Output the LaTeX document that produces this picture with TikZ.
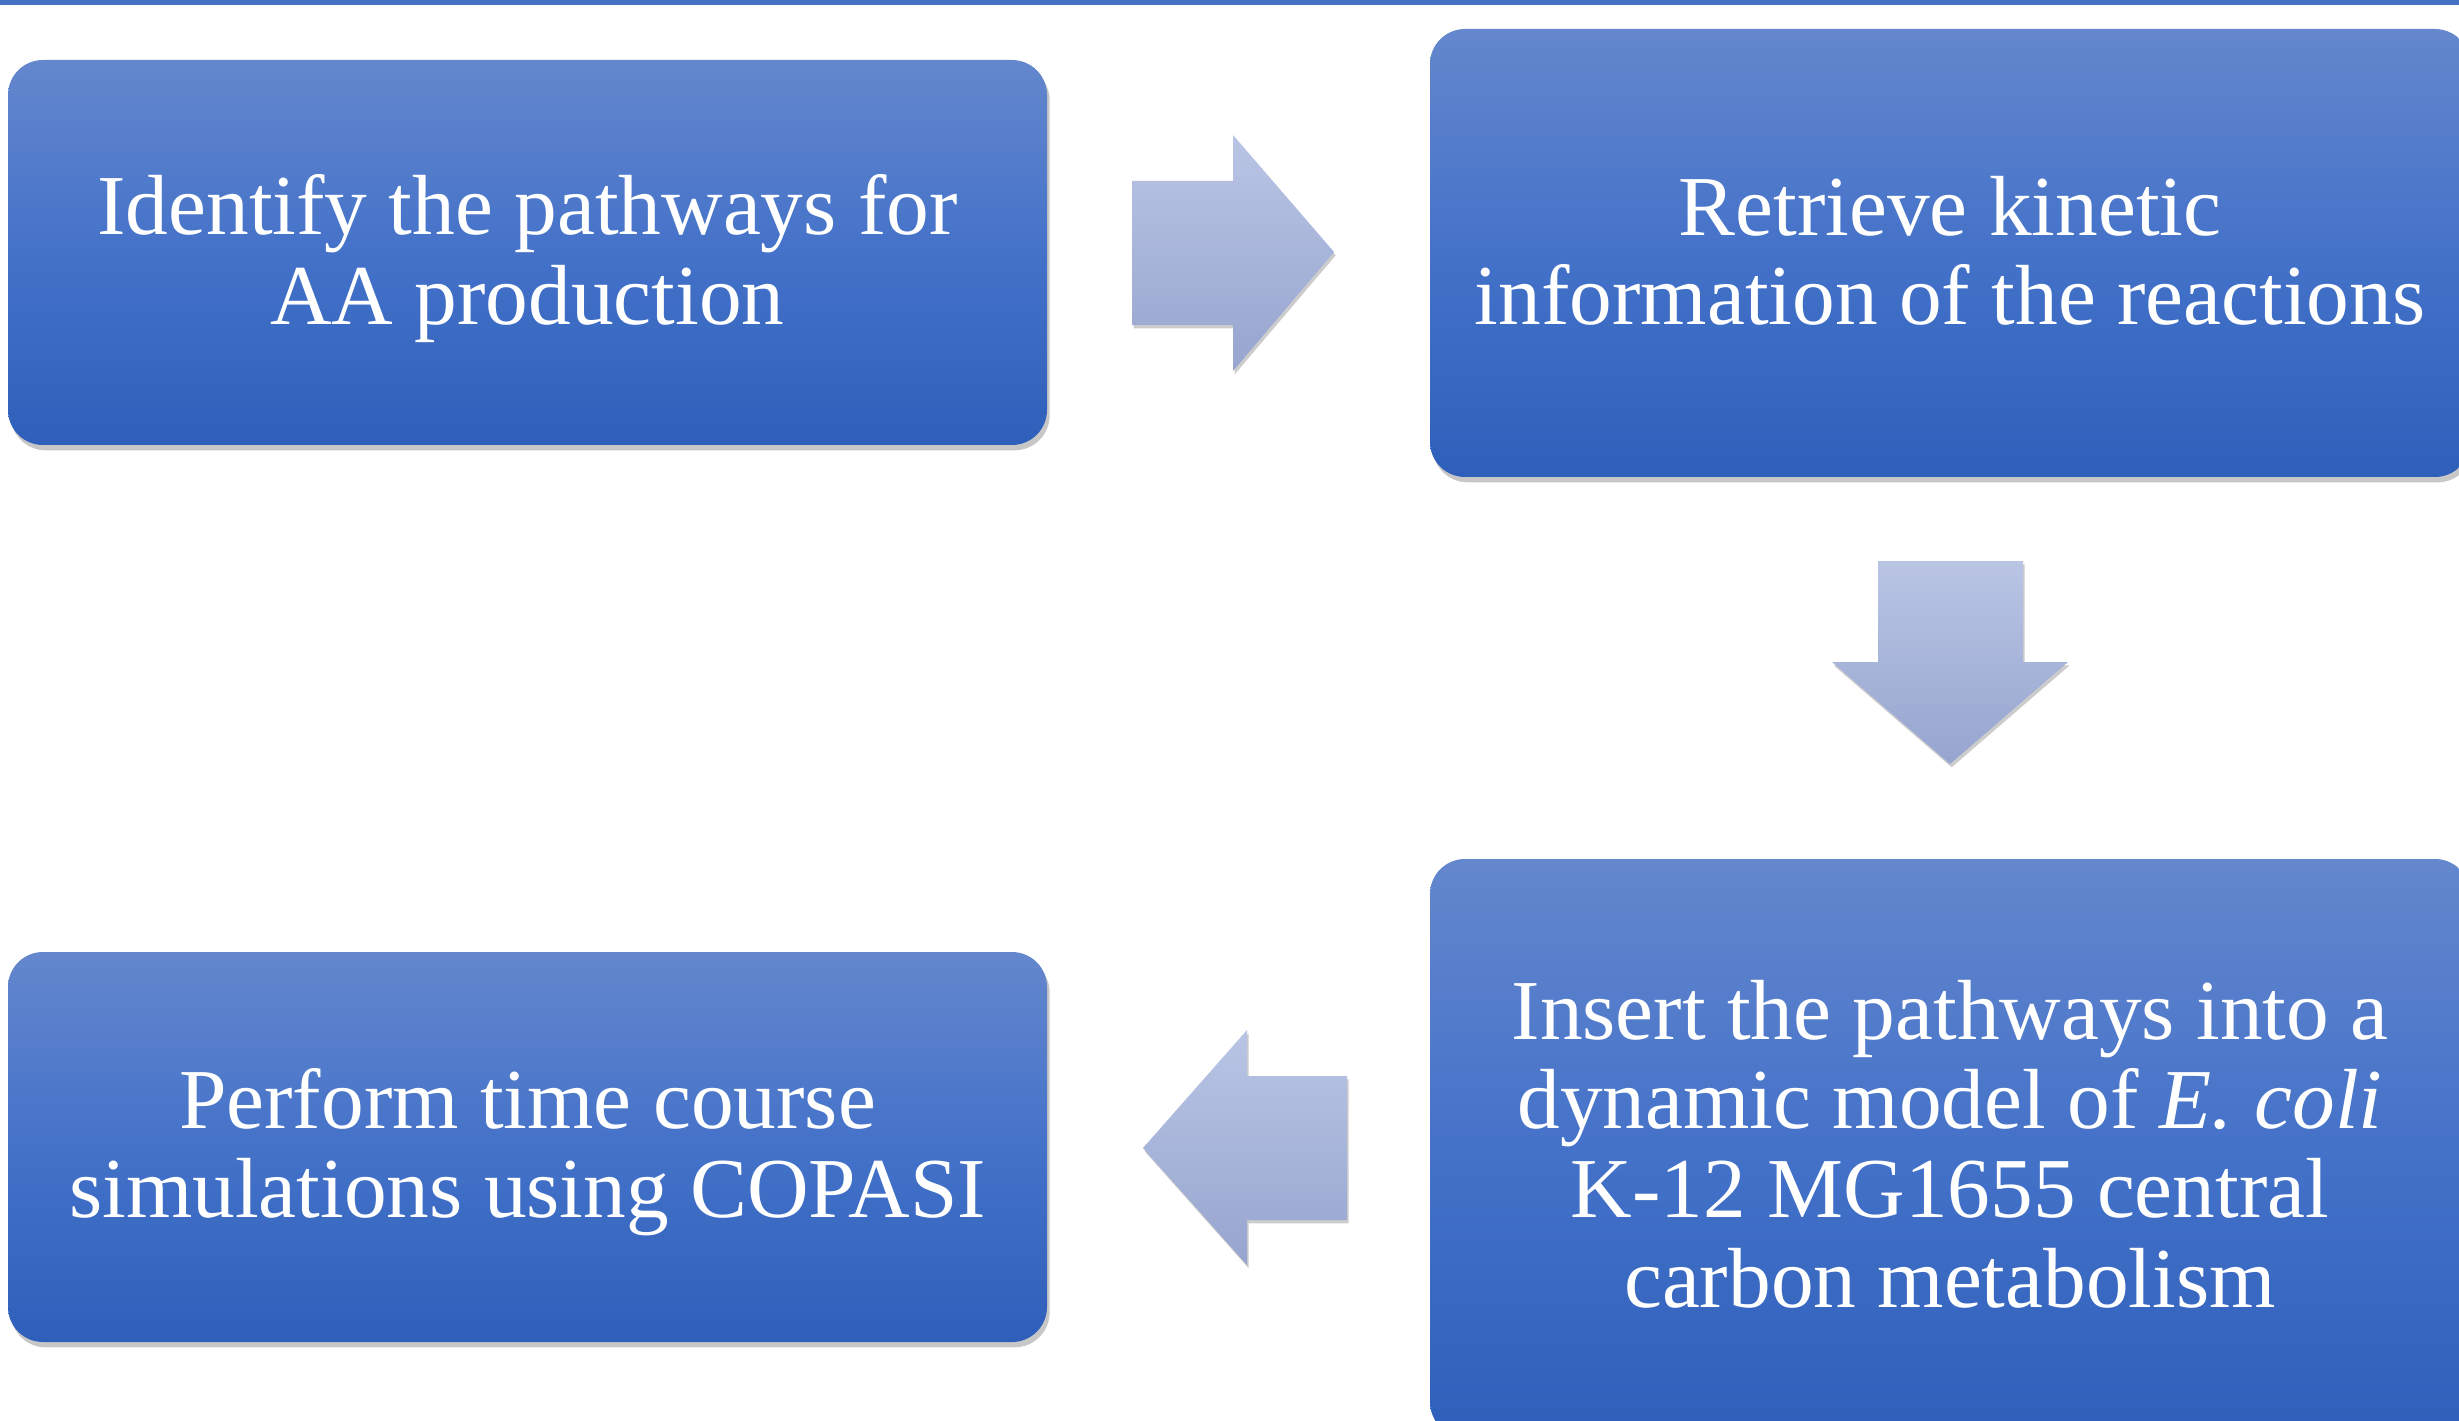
\documentclass[tikz,border=0pt]{standalone}
\usepackage{fontspec}
\setmainfont{Liberation Serif}
\usetikzlibrary{shadows}
\definecolor{boxtop}{HTML}{6487CD}
\definecolor{boxmid}{HTML}{4472C9}
\definecolor{boxbot}{HTML}{2E5FBA}
\definecolor{arrtop}{HTML}{BAC5E5}
\definecolor{arrbot}{HTML}{96A5CF}
\definecolor{topline}{HTML}{4472C4}
\begin{document}
\begin{tikzpicture}[x=0.3pt,y=-0.3pt,
  stepbox/.style={rounded corners=10.5pt, top color=boxtop, bottom color=boxbot, middle color=boxmid,
    inner sep=0pt,
    drop shadow={shadow xshift=0.8pt, shadow yshift=-1.6pt, opacity=0.22, fill=black}},
  steptext/.style={text=white, align=center, inner sep=0pt, font=\fontsize{25.6}{26.8}\selectfont},
  blockarrow/.style={top color=arrtop, bottom color=arrbot,
    drop shadow={shadow xshift=0.5pt, shadow yshift=-1pt, opacity=0.2, fill=black}}]
\useasboundingbox (0,0) rectangle (2459,1421);
\clip (0,0) rectangle (2459,1421);
\fill[white] (0,0) rectangle (2459,1421);
\fill[topline] (0,0) rectangle (2459,5);

\node[stepbox, minimum width=311.7pt, minimum height=115.5pt] (b1) at (527.5,252.5) {};
\node[stepbox, minimum width=312pt, minimum height=134.4pt] (b2) at (1950,253) {};
\node[stepbox, minimum width=312pt, minimum height=173.4pt] (b3) at (1950,1148) {};
\node[stepbox, minimum width=311.7pt, minimum height=117pt] (b4) at (527.5,1147) {};

\node[steptext] (t1) at ([yshift=-1.8pt]b1.center) {Identify the pathways for\\AA production};
\node[steptext] (t2) at ([yshift=0.6pt]b2.center) {Retrieve kinetic\\information of the reactions};
\node[steptext] (t3) at ([yshift=1.2pt]b3.center) {Insert the pathways into a\\dynamic model of \textit{E. coli}\\K-12 MG1655 central\\carbon metabolism};
\node[steptext] (t4) at ([yshift=-1.5pt]b4.center) {Perform time course\\simulations using COPASI};

% block arrows
\path[blockarrow] (1132,181) -- (1233,181) -- (1233,135) -- (1334,252) -- (1233,371) -- (1233,325) -- (1132,325) -- cycle;
\path[blockarrow] (1878,561) -- (2023,561) -- (2023,662) -- (2068,662) -- (1950,764) -- (1832,662) -- (1878,662) -- cycle;
\path[blockarrow] (1347,1076) -- (1247,1076) -- (1247,1030) -- (1143,1148) -- (1247,1265) -- (1247,1220) -- (1347,1220) -- cycle;
\end{tikzpicture}
\end{document}
